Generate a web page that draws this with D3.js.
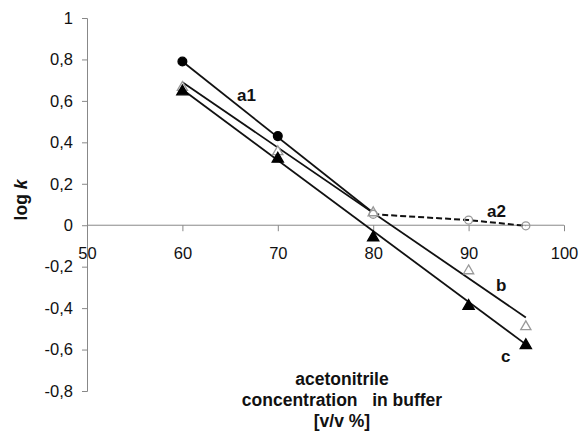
<!DOCTYPE html>
<head>
  <meta charset="UTF-8">
  <style>
    body { margin: 0; background: #fff; }
    text { font-family: Arial, "Liberation Sans", sans-serif; }
  </style>
  <title>log k vs acetonitrile concentration</title>
</head>
<body>
  <script src="https://cdn.jsdelivr.net/npm/d3@7"></script>
  <script>
    // data
    var xTicks = [50, 60, 70, 80, 90, 100];
    var yTicks = [-0.8, -0.6, -0.4, -0.2, 0, 0.2, 0.4, 0.6, 0.8, 1];

    var a1Conc = [60, 70];
    var a1Vals = [0.79, 0.43];
    var a1Fit = [[60, 0.79], [80, 0.06]];

    var a2Conc = [80, 90, 96];
    var a2Vals = [0.053, 0.025, -0.003];

    var bConc = [60, 70, 80, 90, 96];
    var bVals = [0.665, 0.355, 0.06, -0.22, -0.49];
    var bFit = [[60, 0.69], [96, -0.445]];

    var cConc = [60, 70, 80, 90, 96];
    var cVals = [0.645, 0.32, -0.06, -0.39, -0.58];
    var cFit = [[60, 0.655], [96, -0.575]];

    var width = 581, height = 433;

    var x = d3.scaleLinear().domain([50, 100]).range([87, 564]);
    var y = d3.scaleLinear().domain([-0.8, 1]).range([391, 18]);

    var svg = d3.select("body").append("svg")
      .attr("width", width)
      .attr("height", height);

    var locale = d3.formatLocale({ decimal: ",", thousands: ".", grouping: [3], currency: ["", ""], minus: "-" });
    var fmt = locale.format("~g");

    // y axis
    var yAxis = d3.axisLeft(y).tickValues(yTicks).tickSize(5).tickPadding(9).tickFormat(fmt);
    var gy = svg.append("g").attr("transform", "translate(" + x(50) + ",0)").call(yAxis);
    gy.selectAll("path, line").attr("stroke", "#888");
    gy.selectAll("text").attr("font-size", 16.5).attr("fill", "#111")
      .attr("font-family", "Arial, 'Liberation Sans', sans-serif");

    // x axis crossing at 0
    var xAxis = d3.axisBottom(x).tickValues(xTicks).tickSize(6).tickPadding(16).tickFormat(d3.format("d"));
    var gx = svg.append("g").attr("transform", "translate(0," + y(0) + ")").call(xAxis);
    gx.select(".domain").attr("d", "M" + x(50) + ",0H" + x(100));
    gx.selectAll("path, line").attr("stroke", "#888");
    gx.selectAll("text").attr("font-size", 16.5).attr("fill", "#111")
      .attr("font-family", "Arial, 'Liberation Sans', sans-serif");

    var line = d3.line().x(function(d) { return x(d[0]); }).y(function(d) { return y(d[1]); });

    function pairs(xs, ys) { return xs.map(function(v, i) { return [v, ys[i]]; }); }

    // fitted lines
    [a1Fit, bFit, cFit].forEach(function(f) {
      svg.append("path").attr("d", line(f)).attr("fill", "none")
        .attr("stroke", "#111").attr("stroke-width", 1.8);
    });

    // a2 dashed
    svg.append("path").attr("d", line(pairs(a2Conc, a2Vals))).attr("fill", "none")
      .attr("stroke", "#111").attr("stroke-width", 2).attr("stroke-dasharray", "6,3");

    var circ = d3.symbol().type(d3.symbolCircle);
    var tri = d3.symbol().type(d3.symbolTriangle);

    function drawPts(pts, sym, size, fill, stroke) {
      svg.append("g").selectAll("path").data(pts).enter().append("path")
        .attr("transform", function(d) { return "translate(" + x(d[0]) + "," + y(d[1]) + ")"; })
        .attr("d", sym.size(size)())
        .attr("fill", fill)
        .attr("stroke", stroke)
        .attr("stroke-width", 1.3);
    }

    drawPts(pairs(bConc, bVals), tri, 45, "#fff", "#999");
    drawPts(pairs(a2Conc, a2Vals), circ, 50, "none", "#999");
    drawPts(pairs(cConc, cVals), tri, 55, "#000", "#000");
    drawPts(pairs(a1Conc, a1Vals), circ, 60, "#000", "#000");

    // series labels
    var labels = [["a1", 237, 101], ["a2", 487, 217], ["b", 496, 291], ["c", 501, 362]];
    labels.forEach(function(l) {
      svg.append("text").attr("x", l[1]).attr("y", l[2]).text(l[0])
        .attr("font-size", 17).attr("font-weight", "bold").attr("fill", "#111");
    });

    // axis titles
    var xt = ["acetonitrile", "concentration   in buffer", "[v/v %]"];
    xt.forEach(function(t, i) {
      svg.append("text").attr("x", 342).attr("y", 385 + i * 21)
        .attr("text-anchor", "middle").attr("font-size", 17.5).attr("font-weight", "bold")
        .attr("fill", "#111").attr("xml:space", "preserve").style("white-space", "pre").text(t);
    });

    var yl = svg.append("text").attr("transform", "translate(27,200) rotate(-90)")
      .attr("text-anchor", "middle").attr("font-size", 17.5).attr("font-weight", "bold").attr("fill", "#111");
    yl.append("tspan").text("log ");
    yl.append("tspan").attr("font-style", "italic").text("k");
  </script>
</body>
